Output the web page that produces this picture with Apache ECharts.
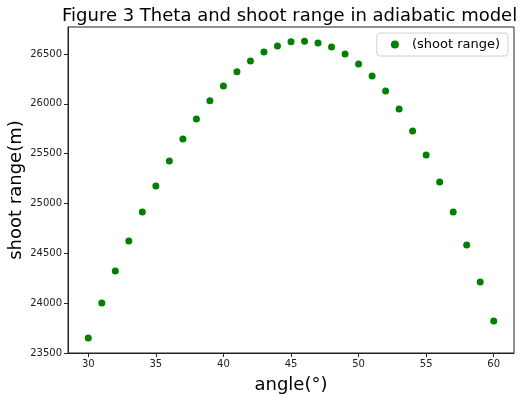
<!DOCTYPE html>
<html>
<head>
<meta charset="UTF-8">
<script src="https://cdn.jsdelivr.net/npm/echarts@6/dist/echarts.min.js"></script>
<style>
  html, body { margin: 0; padding: 0; background: #ffffff; }
  #chart { width: 527px; height: 403px; }
</style>
</head>
<body>
<div id="chart"></div>
<script>
// angle (degrees) and shoot range (m)
var angles = [30, 31, 32, 33, 34, 35, 36, 37, 38, 39, 40, 41, 42, 43, 44, 45,
              46, 47, 48, 49, 50, 51, 52, 53, 54, 55, 56, 57, 58, 59, 60];
var shootRange = [23650, 24002, 24323, 24624, 24915, 25176, 25427, 25647, 25848, 26029,
                  26179, 26320, 26430, 26520, 26580, 26621, 26627, 26610, 26570, 26500,
                  26400, 26279, 26129, 25948, 25728, 25487, 25216, 24915, 24584, 24212, 23821];
var xTicks = [30, 35, 40, 45, 50, 55, 60];
var yTicks = [23500, 24000, 24500, 25000, 25500, 26000, 26500];

var points = angles.map(function (a, i) { return [a, shootRange[i]]; });
var font = 'DejaVu Sans';

echarts.init(document.getElementById('chart')).setOption({
    backgroundColor: '#ffffff',
    animation: false,
    title: {
        text: 'Figure 3 Theta and shoot range in adiabatic model',
        left: 57,
        top: 2,
        textStyle: { fontFamily: font, fontSize: 18, fontWeight: 'normal', color: '#000' }
    },
    legend: {
        data: ['(shoot range)'],
        right: 19,
        top: 33,
        icon: 'circle',
        itemWidth: 8,
        itemHeight: 8,
        itemGap: 10,
        padding: [5, 8, 5, 14],
        borderColor: '#d0d0d0',
        borderWidth: 1,
        borderRadius: 3,
        textStyle: { fontFamily: font, fontSize: 13, color: '#000', padding: [0, 0, 0, 8] }
    },
    grid: {
        left: 68,
        right: 13,
        top: 27,
        bottom: 50,
        outerBoundsMode: 'none',
        show: true,
        borderColor: '#222',
        borderWidth: 1
    },
    xAxis: {
        type: 'value',
        min: 28.5,
        max: 61.5,
        name: 'angle(°)',
        nameLocation: 'middle',
        nameGap: 23,
        nameTextStyle: { fontFamily: font, fontSize: 18, color: '#000' },
        axisLine: { lineStyle: { color: '#222' } },
        axisTick: { show: true, length: 4, customValues: xTicks, lineStyle: { color: '#222' } },
        axisLabel: { customValues: xTicks, fontFamily: font, fontSize: 10, color: '#222', margin: 6 },
        splitLine: { show: false }
    },
    yAxis: {
        type: 'value',
        min: 23500,
        max: 26770,
        name: 'shoot range(m)',
        nameLocation: 'middle',
        nameGap: 43,
        nameMoveOverlap: false,
        nameTextStyle: { fontFamily: font, fontSize: 18, color: '#000' },
        axisLine: { show: true, lineStyle: { color: '#222' } },
        axisTick: { show: true, length: 4, customValues: yTicks, lineStyle: { color: '#222' } },
        axisLabel: {
            customValues: yTicks, fontFamily: font, fontSize: 10, color: '#222', margin: 6,
            formatter: function (v) { return String(v); }
        },
        splitLine: { show: false }
    },
    series: [
        {
            name: '(shoot range)',
            type: 'scatter',
            data: points,
            symbol: 'circle',
            symbolSize: 7,
            itemStyle: { color: '#008000', opacity: 1 }
        }
    ]
});
</script>
</body>
</html>
